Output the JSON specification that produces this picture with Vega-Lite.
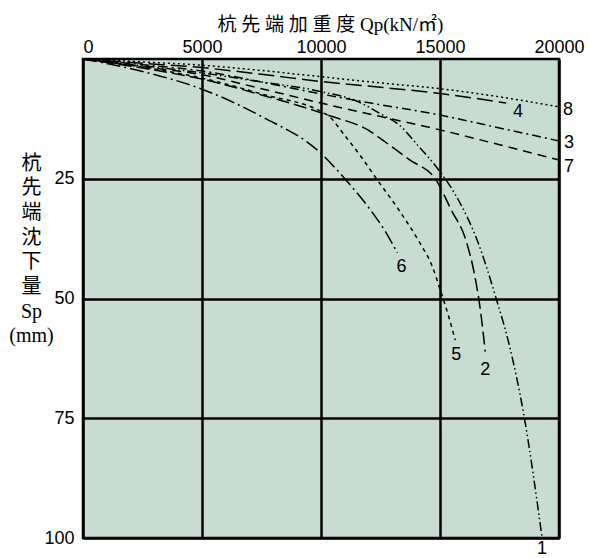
{
  "$schema": "https://vega.github.io/schema/vega-lite/v6.json",
  "width": 476,
  "height": 479,
  "autosize": "none",
  "padding": {"left": 83, "top": 59, "right": 30, "bottom": 20},
  "background": "white",
  "config": {
    "view": {"stroke": "black", "strokeWidth": 2.5, "fill": "#c8dcd2"},
    "axis": {
      "grid": true, "gridColor": "black", "gridWidth": 2.5, "gridOpacity": 1,
      "domain": false, "ticks": false, "format": "d",
      "labelFont": "Liberation Sans", "labelFontSize": 18, "labelColor": "black",
      "titleColor": "black", "titleFontWeight": "normal",
      "titleFont": "'Liberation Serif', 'Noto Sans CJK JP'"
    }
  },
  "datasets": {
    "curves": [
      {"c": "1", "x": 0, "y": 0}, {"c": "1", "x": 2500, "y": 1.4}, {"c": "1", "x": 5000, "y": 2.9}, {"c": "1", "x": 7500, "y": 4.8}, {"c": "1", "x": 10000, "y": 6.8}, {"c": "1", "x": 11600, "y": 9}, {"c": "1", "x": 12450, "y": 11.3}, {"c": "1", "x": 13290, "y": 13.8}, {"c": "1", "x": 14130, "y": 18.4}, {"c": "1", "x": 14890, "y": 22.8}, {"c": "1", "x": 15770, "y": 29.4}, {"c": "1", "x": 16560, "y": 37.8}, {"c": "1", "x": 17360, "y": 50}, {"c": "1", "x": 17860, "y": 58.7}, {"c": "1", "x": 18530, "y": 74.5}, {"c": "1", "x": 19290, "y": 100},
      {"c": "2", "x": 0, "y": 0}, {"c": "2", "x": 2500, "y": 1.9}, {"c": "2", "x": 5000, "y": 4.2}, {"c": "2", "x": 7500, "y": 7.5}, {"c": "2", "x": 10270, "y": 11.7}, {"c": "2", "x": 12100, "y": 15.2}, {"c": "2", "x": 12580, "y": 16.9}, {"c": "2", "x": 13710, "y": 21}, {"c": "2", "x": 14840, "y": 25.3}, {"c": "2", "x": 15470, "y": 31.5}, {"c": "2", "x": 16100, "y": 38}, {"c": "2", "x": 16450, "y": 45}, {"c": "2", "x": 16700, "y": 52.5}, {"c": "2", "x": 16900, "y": 61.1},
      {"c": "3", "x": 0, "y": 0}, {"c": "3", "x": 2500, "y": 1.2}, {"c": "3", "x": 5000, "y": 2.5}, {"c": "3", "x": 7500, "y": 4.8}, {"c": "3", "x": 10000, "y": 7.3}, {"c": "3", "x": 12100, "y": 9.2}, {"c": "3", "x": 15000, "y": 11.7}, {"c": "3", "x": 17500, "y": 14.4}, {"c": "3", "x": 20000, "y": 17.1},
      {"c": "4", "x": 0, "y": 0}, {"c": "4", "x": 2500, "y": 0.9}, {"c": "4", "x": 5000, "y": 1.8}, {"c": "4", "x": 7500, "y": 3.2}, {"c": "4", "x": 10000, "y": 4.7}, {"c": "4", "x": 12500, "y": 5.9}, {"c": "4", "x": 15000, "y": 7.2}, {"c": "4", "x": 17780, "y": 9.2},
      {"c": "5", "x": 0, "y": 0}, {"c": "5", "x": 2500, "y": 1.7}, {"c": "5", "x": 5000, "y": 4}, {"c": "5", "x": 7500, "y": 7.3}, {"c": "5", "x": 10270, "y": 11.7}, {"c": "5", "x": 11000, "y": 16}, {"c": "5", "x": 11700, "y": 20.5}, {"c": "5", "x": 12330, "y": 25}, {"c": "5", "x": 13200, "y": 31}, {"c": "5", "x": 14130, "y": 38.2}, {"c": "5", "x": 14650, "y": 43}, {"c": "5", "x": 15030, "y": 48.5}, {"c": "5", "x": 15350, "y": 53.5}, {"c": "5", "x": 15640, "y": 58.7},
      {"c": "6", "x": 0, "y": 0}, {"c": "6", "x": 2500, "y": 2.6}, {"c": "6", "x": 5000, "y": 6.3}, {"c": "6", "x": 7500, "y": 12}, {"c": "6", "x": 10000, "y": 19.7}, {"c": "6", "x": 11000, "y": 25}, {"c": "6", "x": 12000, "y": 31}, {"c": "6", "x": 12700, "y": 36}, {"c": "6", "x": 13210, "y": 40.5},
      {"c": "7", "x": 0, "y": 0}, {"c": "7", "x": 2500, "y": 1.6}, {"c": "7", "x": 5000, "y": 3.3}, {"c": "7", "x": 7500, "y": 6.2}, {"c": "7", "x": 10000, "y": 9.2}, {"c": "7", "x": 12500, "y": 12}, {"c": "7", "x": 15000, "y": 14.8}, {"c": "7", "x": 17500, "y": 17.9}, {"c": "7", "x": 20000, "y": 21.1},
      {"c": "8", "x": 0, "y": 0}, {"c": "8", "x": 2500, "y": 0.6}, {"c": "8", "x": 5000, "y": 1.3}, {"c": "8", "x": 7500, "y": 2.4}, {"c": "8", "x": 10000, "y": 3.7}, {"c": "8", "x": 12500, "y": 5}, {"c": "8", "x": 15000, "y": 6.2}, {"c": "8", "x": 17500, "y": 7.9}, {"c": "8", "x": 20000, "y": 10}
    ],
    "labels": [
      {"c": "8", "x": 20380, "y": 10.6},
      {"c": "3", "x": 20420, "y": 17.5},
      {"c": "7", "x": 20420, "y": 22.5},
      {"c": "4", "x": 18280, "y": 11.1},
      {"c": "6", "x": 13380, "y": 43.4},
      {"c": "5", "x": 15680, "y": 61.8},
      {"c": "2", "x": 16900, "y": 64.9},
      {"c": "1", "x": 19290, "y": 102.4}
    ]
  },
  "encoding": {
    "x": {
      "field": "x", "type": "quantitative",
      "scale": {"domain": [0, 20000], "nice": false},
      "axis": {
        "orient": "top", "values": [0, 5000, 10000, 15000, 20000],
        "labelFlush": false, "labelPadding": 3,
        "labelAlign": {"condition": {"test": "datum.value == 0", "value": "left"}, "value": "center"},
        "title": "杭 先 端 加 重 度 Qp(kN/㎡)", "titleFontSize": 19, "titlePadding": 4, "titleX": 247
      }
    },
    "y": {
      "field": "y", "type": "quantitative",
      "scale": {"domain": [0, 100], "reverse": true, "nice": false},
      "axis": {
        "values": [25, 50, 75, 100], "labelPadding": 9,
        "title": ["杭", "先", "端", "沈", "下", "量", "Sp", "(mm)"],
        "titleAngle": 0, "titleAlign": "center", "titleBaseline": "middle",
        "titleFontSize": 20, "titleLineHeight": 24.7, "titleX": -52, "titleY": 104
      }
    }
  },
  "layer": [
    {
      "data": {"name": "curves"},
      "mark": {"type": "line", "interpolate": "monotone", "color": "black", "strokeWidth": 1.5},
      "encoding": {
        "detail": {"field": "c"},
        "strokeDash": {
          "field": "c", "type": "nominal", "legend": null,
          "scale": {
            "domain": ["1", "2", "3", "4", "5", "6", "7", "8"],
            "range": [[9, 3, 1.5, 3, 1.5, 3], [13, 5], [9, 4, 2, 4], [16, 6], [4, 4], [14, 4, 2, 4], [9, 6], [2, 3]]
          }
        }
      }
    },
    {
      "data": {"name": "labels"},
      "mark": {"type": "text", "font": "Liberation Sans", "fontSize": 18, "color": "black", "align": "center", "baseline": "middle"},
      "encoding": {"text": {"field": "c"}}
    }
  ]
}
